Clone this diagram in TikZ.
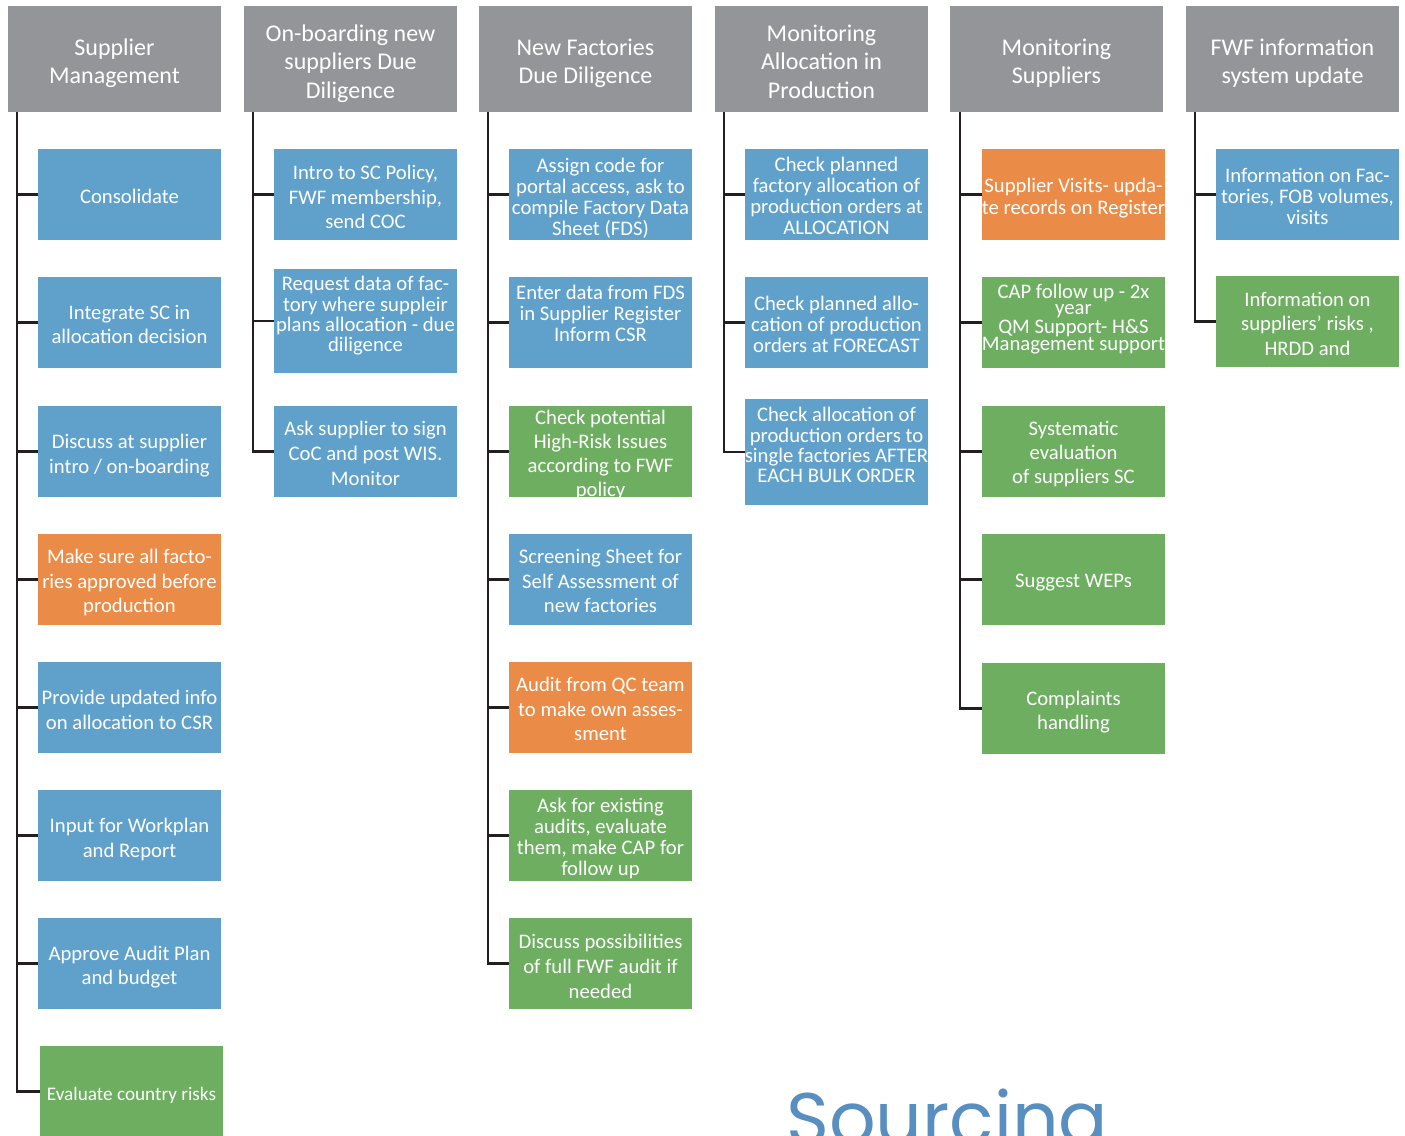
\documentclass[tikz,border=0pt]{standalone}
\usepackage{fontspec}
\setmainfont{Carlito}
\newfontfamily\poppins{Poppins}
\definecolor{hdrgray}{RGB}{147,149,152}
\definecolor{tblue}{RGB}{96,161,204}
\definecolor{torange}{RGB}{234,139,72}
\definecolor{tgreen}{RGB}{110,174,97}
\definecolor{linecol}{RGB}{35,31,32}
\definecolor{srcblue}{RGB}{88,142,192}
\tikzset{
  hdr/.style={fill=hdrgray, minimum width=213, minimum height=106, inner sep=0},
  hdrtext/.style={text=white, align=center, inner sep=0, font=\fontsize{24}{28.5}\selectfont},
  taskbox/.style={minimum width=183, inner sep=0, draw=none},
  tasktext/.style={text=white, align=center, inner sep=0},
  conn/.style={draw=linecol, line width=2.4pt}
}
% name, left, top, bottom, colour, baselineskip, text centre y, text
\newcommand\task[8]{%
  \node[taskbox, fill=#5, minimum height={#4-#3}] (#1) at ({#2+91.5}, {(#3+#4)/2}) {};
  \node[tasktext, font=\fontsize{20.7}{#6}\selectfont] (#1t) at ({#2+91.5}, {#7+3}) {\strut #8\strut};
}
\newcommand\header[3]{%
  \node[hdr] (#1) at (#2,59) {};
  \node[hdrtext] (#1t) at (#2,64) {\strut #3\strut};
}
\begin{document}
\begin{tikzpicture}[x=1pt, y=-1pt]
\fill[white] (0,0) rectangle (1405,1135);
\useasboundingbox (0,0) rectangle (1405,1135);

% headers
\header{h1}{114.5}{Supplier\\Management}
\header{h2}{350.5}{On-boarding new\\suppliers Due\\Diligence}
\header{h3}{585.5}{New Factories\\Due Diligence}
\header{h4}{821.5}{Monitoring\\Allocation in\\Production}
\header{h5}{1056.5}{Monitoring\\Suppliers}
\header{h6}{1292.5}{FWF information\\system update}

% column 1
\task{b11}{38}{149}{240}{tblue}{24}{196}{Consolidate}
\task{b12}{38}{277}{368}{tblue}{24}{324}{Integrate SC in\\allocation decision}
\task{b13}{38}{406}{497}{tblue}{25}{452.5}{Discuss at supplier\\intro / on-boarding}
\task{b14}{38}{534}{625}{torange}{24.5}{580.5}{Make sure all facto-\\ries approved before\\production}
\task{b15}{38}{662}{753}{tblue}{25}{708.5}{Provide updated info\\on allocation to CSR}
\task{b16}{38}{790}{881}{tblue}{25}{836.5}{Input for Workplan\\and Report}
\task{b17}{38}{918}{1009}{tblue}{24}{965}{Approve Audit Plan\\and budget}
\node[taskbox, fill=tgreen, minimum height=91] (b18) at (131.5,1091.5) {};
\node[tasktext, font=\fontsize{19.2}{22}\selectfont] (b18t) at (131.5,1096) {\strut Evaluate country risks\strut};

% column 2
\task{b21}{274}{149}{240}{tblue}{24.5}{196.5}{Intro to SC Policy,\\FWF membership,\\send COC}
\task{b22}{274}{269}{373}{tblue}{20}{313.5}{Request data of fac-\\tory where suppleir\\plans allocation - due\\diligence}
\task{b23}{274}{406}{497}{tblue}{25}{452.5}{Ask supplier to sign\\CoC and post WIS.\\Monitor}

% column 3
\task{b31}{509}{149}{240}{tblue}{21}{196.5}{Assign code for\\portal access, ask to\\compile Factory Data\\Sheet (FDS)}
\task{b32}{509}{277}{368}{tblue}{21}{313.5}{Enter data from FDS\\in Supplier Register\\Inform CSR}
\task{b33}{509}{406}{497}{tgreen}{24}{452.5}{Check potential\\High-Risk Issues\\according to FWF\\policy}
\task{b34}{509}{534}{625}{tblue}{24.5}{580.5}{Screening Sheet for\\Self Assessment of\\new factories}
\task{b35}{509}{662}{753}{torange}{24.5}{708.5}{Audit from QC team\\to make own asses-\\sment}
\task{b36}{509}{790}{881}{tgreen}{21}{837}{Ask for existing\\audits, evaluate\\them, make CAP for\\follow up}
\task{b37}{509}{918}{1009}{tgreen}{25}{965}{Discuss possibilities\\of full FWF audit if\\needed}

% column 4
\task{b41}{745}{149}{240}{tblue}{21}{196}{Check planned\\factory allocation of\\production orders at\\ALLOCATION}
\task{b42}{745}{277}{368}{tblue}{21}{324.5}{Check planned allo-\\cation of production\\orders at FORECAST}
\task{b43}{745}{399}{505}{tblue}{20}{444.5}{Check allocation of\\production orders to\\single factories AFTER\\EACH BULK ORDER}

% column 5
\task{b51}{982}{149}{240}{torange}{22}{196}{Supplier Visits- upda-\\te records on Register}
\task{b52}{982}{277}{368}{tgreen}{16}{317}{CAP follow up - 2x\\year\\QM Support- H\&S\\Management support}
\task{b53}{982}{406}{497}{tgreen}{24}{452}{Systematic\\evaluation\\of suppliers SC}
\task{b54}{982}{534}{625}{tgreen}{24}{580}{Suggest WEPs}
\task{b55}{982}{663}{754}{tgreen}{24}{710}{Complaints\\handling}

% column 6
\task{b61}{1216}{149}{240}{tblue}{21}{196}{Information on Fac-\\tories, FOB volumes,\\visits}
\task{b62}{1216}{276}{367}{tgreen}{24.5}{323}{Information on\\suppliers’ risks ,\\HRDD and}

% connectors
\foreach \b in {b11,b12,b13,b14,b15,b16,b17,b18}
  \draw[conn] ([xshift=9]h1.south west) |- (\b.west);
\foreach \b in {b21,b22,b23}
  \draw[conn] ([xshift=9]h2.south west) |- (\b.west);
\foreach \b in {b31,b32,b33,b34,b35,b36,b37}
  \draw[conn] ([xshift=9]h3.south west) |- (\b.west);
\foreach \b in {b41,b42,b43}
  \draw[conn] ([xshift=9]h4.south west) |- (\b.west);
\foreach \b in {b51,b52,b53,b54,b55}
  \draw[conn] ([xshift=10]h5.south west) |- (\b.west);
\foreach \b in {b61,b62}
  \draw[conn] ([xshift=9]h6.south west) |- (\b.west);

% logo text
\node[anchor=base west, inner sep=0, text=srcblue, font=\fontsize{73}{73}\poppins] (src) at (786,1144) {Sourcing};
\end{tikzpicture}
\end{document}
